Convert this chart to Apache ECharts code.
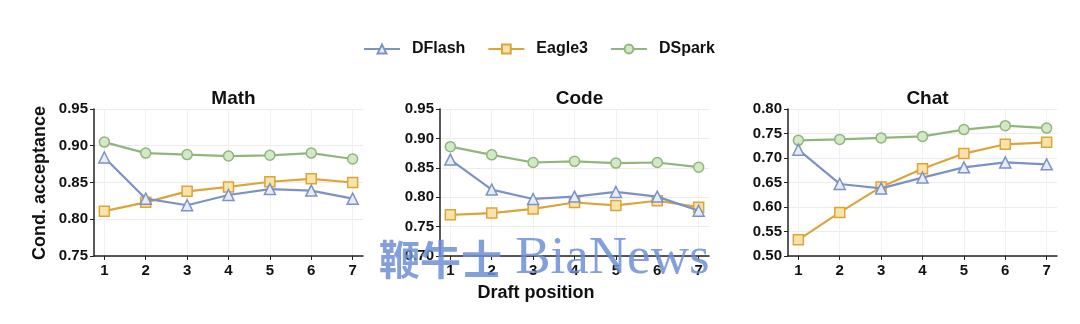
<!DOCTYPE html>
<html>
<head>
<meta charset="utf-8">
<script src="https://cdn.jsdelivr.net/npm/echarts@6/dist/echarts.min.js"></script>
<style>html,body{margin:0;padding:0;background:#fff}#c{width:1080px;height:324px}</style>
</head>
<body>
<div id="c"></div>
<script>
var positions = [1, 2, 3, 4, 5, 6, 7];
var panels = ['Math', 'Code', 'Chat'];
var seriesNames = ['DFlash', 'Eagle3', 'DSpark'];

var mathDFlash = [0.884, 0.828, 0.819, 0.833, 0.841, 0.839, 0.828];
var mathEagle3 = [0.811, 0.823, 0.838, 0.844, 0.851, 0.855, 0.850];
var mathDSpark = [0.905, 0.890, 0.888, 0.886, 0.887, 0.890, 0.882];

var codeDFlash = [0.864, 0.813, 0.797, 0.801, 0.809, 0.801, 0.777];
var codeEagle3 = [0.770, 0.773, 0.780, 0.791, 0.786, 0.794, 0.783];
var codeDSpark = [0.886, 0.872, 0.859, 0.861, 0.858, 0.859, 0.851];

var chatDFlash = [0.717, 0.647, 0.638, 0.660, 0.681, 0.691, 0.687];
var chatEagle3 = [0.533, 0.589, 0.641, 0.678, 0.709, 0.728, 0.732];
var chatDSpark = [0.736, 0.738, 0.741, 0.744, 0.758, 0.766, 0.761];

var yMins = [0.75, 0.70, 0.50];
var yMaxs = [0.95, 0.95, 0.80];
var yStep = 0.05;

var panelData = [
  [mathDFlash, mathEagle3, mathDSpark],
  [codeDFlash, codeEagle3, codeDSpark],
  [chatDFlash, chatEagle3, chatDSpark]
];

var lineColors = ['#7c92c6', '#dba53b', '#8fb77c'];
var fillColors = ['#e6ecf8', '#fbe3a8', '#d3e8c6'];
var symbols = ['triangle', 'rect', 'circle'];

var gridLefts = [94, 440, 788];
var FONT = 'Liberation Sans, Arial, sans-serif';

var grids = [], xAxes = [], yAxes = [], series = [], titles = [];
for (var p = 0; p < 3; p++) {
  grids.push({left: gridLefts[p], top: 109, width: 269, height: 147});
  titles.push({
    text: panels[p], left: gridLefts[p] + 134.5, top: 84, textAlign: 'center',
    textStyle: {fontFamily: FONT, fontWeight: 'bold', fontSize: 19, color: '#111'}
  });
  xAxes.push({
    type: 'value', gridIndex: p, min: 0.75, max: 7.25,
    axisLine: {show: true, lineStyle: {color: '#222', width: 1.5}},
    axisTick: {show: true, customValues: positions, length: 4, lineStyle: {color: '#222'}},
    axisLabel: {customValues: positions, fontFamily: FONT, fontWeight: 'bold', fontSize: 15, color: '#111', margin: 7},
    splitLine: {show: true, lineStyle: {color: '#f1f1f1', width: 1}}
  });
  yAxes.push({
    type: 'value', gridIndex: p, min: yMins[p], max: yMaxs[p], interval: yStep,
    axisLine: {show: true, lineStyle: {color: '#222', width: 1.5}},
    axisTick: {show: true, length: 4, lineStyle: {color: '#222'}},
    axisLabel: {fontFamily: FONT, fontWeight: 'bold', fontSize: 15, color: '#111', margin: 6,
      formatter: function (v) { return v.toFixed(2); }},
    splitLine: {show: true, lineStyle: {color: '#ececec', width: 1}}
  });
  for (var s = 0; s < 3; s++) {
    var d = panelData[p][s].map(function (v, i) { return [positions[i], v]; });
    series.push({
      name: seriesNames[s], type: 'line', xAxisIndex: p, yAxisIndex: p, data: d,
      symbol: symbols[s], symbolSize: s === 0 ? 11 : 10,
      lineStyle: {color: lineColors[s], width: 2.2},
      itemStyle: {color: fillColors[s], borderColor: lineColors[s], borderWidth: 1.5},
      z: s === 0 ? 3 : 2
    });
  }
}

var chart = echarts.init(document.getElementById('c'), null, {renderer: 'canvas'});
chart.setOption({
  backgroundColor: '#fff',
  animation: false,
  title: titles,
  legend: {
    top: 36, left: 358, itemWidth: 36, itemHeight: 11, itemGap: 22,
    data: seriesNames,
    textStyle: {fontFamily: FONT, fontWeight: 'bold', fontSize: 16, color: '#111', padding: [0, 0, 0, 7]}
  },
  grid: grids, xAxis: xAxes, yAxis: yAxes, series: series,
  graphic: [
    {type: 'text', x: 40, y: 183, rotation: Math.PI / 2,
      style: {text: 'Cond. acceptance', fontFamily: FONT, fontWeight: 'bold', fontSize: 18, fill: '#111',
        textAlign: 'center', textVerticalAlign: 'middle'}},
    {type: 'text', x: 536, y: 293,
      style: {text: 'Draft position', fontFamily: FONT, fontWeight: 'bold', fontSize: 18, fill: '#111',
        textAlign: 'center', textVerticalAlign: 'middle'}},
    {type: 'text', x: 379, y: 259, z: 100,
      style: {text: '{c|鞭牛士}{e| BiaNews}', textVerticalAlign: 'middle', opacity: 0.85,
        rich: {
          c: {fontFamily: 'Noto Sans CJK SC', fontWeight: 'bold', fontSize: 41, fill: '#6f8fd6'},
          e: {fontFamily: 'Liberation Serif, serif', fontSize: 53, fill: '#6f8fd6'}
        }}}
  ]
});
</script>
</body>
</html>
